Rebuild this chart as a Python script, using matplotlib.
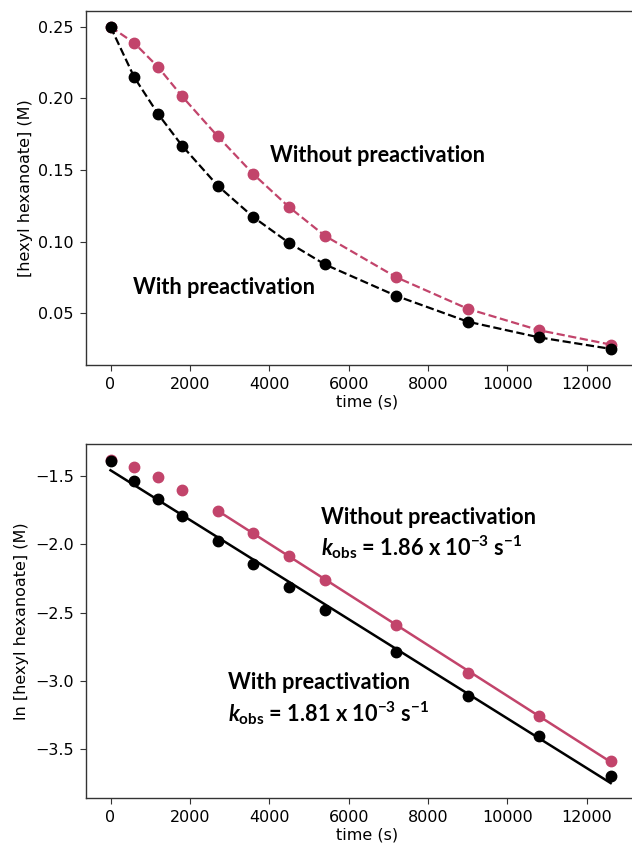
import numpy as np
import matplotlib
matplotlib.use('Agg')
import matplotlib.pyplot as plt

# sampling times (s)
time_s = [0, 600, 1200, 1800, 2700, 3600, 4500, 5400, 7200, 9000, 10800, 12600]

# [hexyl hexanoate] (M)
conc_with = [0.250, 0.2146, 0.189, 0.167, 0.139, 0.117, 0.099, 0.084, 0.062, 0.044, 0.033, 0.025]
conc_without = [0.250, 0.2386, 0.2218, 0.2015, 0.1735, 0.147, 0.124, 0.104, 0.075, 0.053, 0.038, 0.028]

# ln [hexyl hexanoate]
ln_with = [-1.388, -1.539, -1.668, -1.790, -1.973, -2.146, -2.315, -2.480, -2.790, -3.107, -3.402, -3.695]
ln_without = [-1.386, -1.434, -1.510, -1.602, -1.754, -1.917, -2.085, -2.261, -2.590, -2.939, -3.256, -3.585]

# the "without" fit only uses points from 2700 s on
fit_start_without = 2700

label_with = 'With preactivation'
label_without = 'Without preactivation'
kobs_with = r'$k_{\rm obs}$ = 1.81 x 10$^{-3}$ s$^{-1}$'
kobs_without = r'$k_{\rm obs}$ = 1.86 x 10$^{-3}$ s$^{-1}$'

RED = '#c2446b'
BLACK = 'black'

plt.rcParams['font.family'] = ['DejaVu Sans']
plt.rcParams['mathtext.fontset'] = 'custom'
plt.rcParams['mathtext.rm'] = 'Lato:bold'
plt.rcParams['mathtext.it'] = 'Lato:italic:bold'
plt.rcParams['mathtext.bf'] = 'Lato:bold'

t = np.array(time_s, dtype=float)

# axes run slightly past the right edge of the canvas, as in the original crop
fig = plt.figure(figsize=(6.32, 8.47), dpi=100)
ax1 = fig.add_axes([0.1353, 0.5691, 0.89, 0.4183])
ax2 = fig.add_axes([0.1353, 0.0579, 0.89, 0.4180])
XLIM = (-630, 13540)

ms = 7.5

# top panel: concentration vs time
ax1.plot(t, conc_without, '--', color=RED, lw=1.6, marker='o', ms=ms)
ax1.plot(t, conc_with, '--', color=BLACK, lw=1.6, marker='o', ms=ms)
ax1.set_xlim(*XLIM)
ax1.set_ylim(0.01375, 0.26125)
ax1.set_yticks([0.05, 0.10, 0.15, 0.20, 0.25])
ax1.set_xlabel('time (s)', fontsize=11.5, labelpad=2)
ax1.set_ylabel('[hexyl hexanoate] (M)', fontsize=11.5)

txt = dict(fontfamily='Lato', fontweight='bold', fontsize=15.7, ha='left', va='center')
ax1.text(4018, 0.160, label_without, **txt)
ax1.text(567, 0.0677, label_with, **txt)

# bottom panel: ln concentration vs time with linear fits
ax2.plot(t, ln_without, 'o', color=RED, ms=ms, zorder=2)
ax2.plot(t, ln_with, 'o', color=BLACK, ms=ms, zorder=3)

lw_arr = np.array(ln_with)
k_b, c_b = np.polyfit(t, lw_arr, 1)
ax2.plot(t, k_b * t + c_b, '-', color=BLACK, lw=1.8, zorder=3)

mask = t >= fit_start_without
lwo_arr = np.array(ln_without)
k_r, c_r = np.polyfit(t[mask], lwo_arr[mask], 1)
ax2.plot(t[mask], k_r * t[mask] + c_r, '-', color=RED, lw=1.8, zorder=2)

ax2.set_xlim(*XLIM)
ax2.set_ylim(-3.856, -1.266)
ax2.set_yticks([-3.5, -3.0, -2.5, -2.0, -1.5])
ax2.set_xlabel('time (s)', fontsize=11.5, labelpad=2)
ax2.set_ylabel('ln [hexyl hexanoate] (M)', fontsize=11.5)

ax2.text(5292, -1.807, label_without, **txt)
ax2.text(5292, -2.02, kobs_without, **txt)
ax2.text(2960, -3.014, label_with, **txt)
ax2.text(2960, -3.234, kobs_with, **txt)

for ax in (ax1, ax2):
    ax.tick_params(labelsize=11.5, length=4, pad=4.5, color='#333333')
    for s in ax.spines.values():
        s.set_color('#333333')
        s.set_linewidth(1.0)

fig.savefig('out.png', dpi=100)
